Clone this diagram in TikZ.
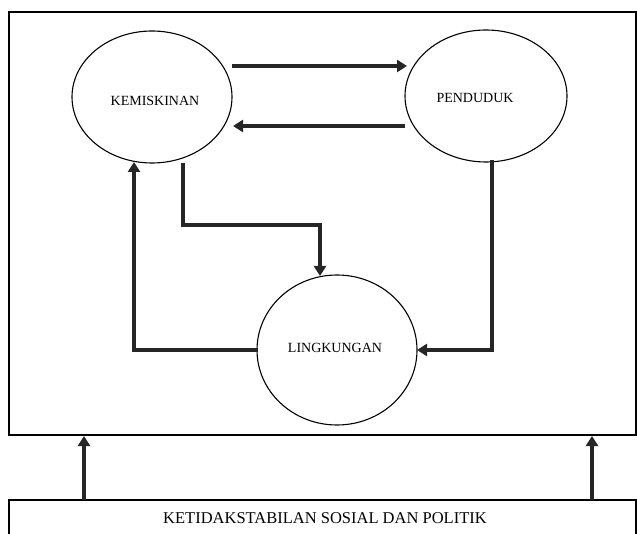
\documentclass[tikz,border=0pt]{standalone}
\usepackage{fontspec}
\setmainfont{Liberation Serif}
\usetikzlibrary{arrows.meta}
\begin{document}
\begin{tikzpicture}[x=1pt,y=-1pt,
  frame/.style={draw=black,line width=1.3pt},
  oval/.style={draw=black,line width=1.1pt},
  lbl/.style={font=\fontsize{14}{16}\selectfont},
  flow/.style={draw=black!85,line width=3.8pt,-{Triangle[length=10pt,width=12pt]}}]
\clip (0,0) rectangle (637,534);
\fill[white] (0,0) rectangle (637,534);
\draw[frame] (9,12) rectangle (636,435);
\draw[frame] (9,500) rectangle (636,545);
\draw[oval] (152,97) ellipse [x radius=80, y radius=66];
\draw[oval] (486,96) ellipse [x radius=81, y radius=66];
\draw[oval] (337,350) ellipse [x radius=80, y radius=75];
\node[lbl] (kem) at (155,101) {KEMISKINAN};
\node[lbl] (pen) at (475,98) {PENDUDUK};
\node[lbl] (lin) at (335,348) {LINGKUNGAN};
\node[font=\fontsize{16.5}{18}\selectfont] (ket) at (325,518) {KETIDAKSTABILAN SOSIAL DAN POLITIK};
\coordinate (k1) at (232,66);
\coordinate (p1) at (407,66);
\coordinate (p2) at (405,126);
\coordinate (k2) at (233,126);
\coordinate (kb) at (183,163);
\coordinate (lt) at (320,276);
\coordinate (pb) at (492,160);
\coordinate (lr) at (417,350);
\coordinate (ll) at (258,350);
\coordinate (kb2) at (134,162);
\coordinate (b1) at (84,500);
\coordinate (t1) at (84,436);
\coordinate (b2) at (592,500);
\coordinate (t2) at (592,436);
\draw[flow] (k1) -- (p1);
\draw[flow] (p2) -- (k2);
\draw[flow] (kb) |- (250,225) -| (lt);
\draw[flow] (pb) |- (lr);
\draw[flow] (ll) -| (kb2);
\draw[flow] (b1) -- (t1);
\draw[flow] (b2) -- (t2);
\end{tikzpicture}
\end{document}
